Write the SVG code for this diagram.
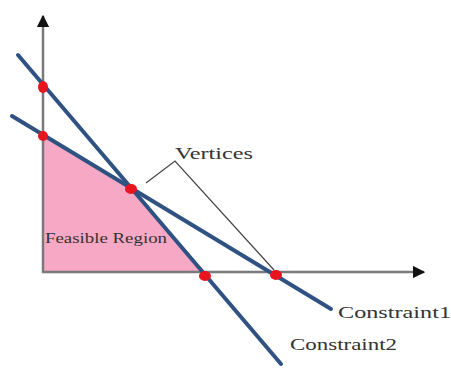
<svg xmlns="http://www.w3.org/2000/svg" width="451" height="370" viewBox="0 0 451 370">
<style>
.axis{stroke:#7a7a7a;stroke-width:2.5;fill:none}
.con{stroke:#2f5283;stroke-width:4;fill:none;stroke-linecap:round}
.dot{fill:#e8141e}
.lbl{font-family:"Liberation Serif","Times New Roman",serif;fill:#333}
.ptr{stroke:#444;stroke-width:1.2;fill:none}
</style>
<defs>
<marker id="arr" viewBox="0 0 10 10" refX="9" refY="5" markerWidth="5" markerHeight="5" orient="auto" markerUnits="strokeWidth">
<path d="M0,0 L10,5 L0,10 z" fill="#111"/>
</marker>
</defs>
<rect width="451" height="370" fill="#fff"/>
<g id="feasible-region">
<polygon points="43,272 43,136 131,189 205,272" fill="#f7a8c4"/>
<text class="lbl" x="45" y="243" font-size="15" textLength="122" lengthAdjust="spacingAndGlyphs">Feasible Region</text>
</g>
<g id="axes">
<line class="axis" x1="43" y1="273" x2="43" y2="16" marker-end="url(#arr)"/>
<line class="axis" x1="42" y1="272" x2="424" y2="272" marker-end="url(#arr)"/>
</g>
<g id="connectors">
<line class="con" x1="18" y1="55" x2="281" y2="364"/>
<line class="con" x1="12" y1="116" x2="331" y2="309"/>
<polyline class="ptr" points="146,183 175,161 274,270"/>
</g>
<g id="vertices-dots">
<ellipse class="dot" cx="43" cy="87" rx="5" ry="6"/>
<ellipse class="dot" cx="43" cy="136" rx="5" ry="5"/>
<ellipse class="dot" cx="131" cy="189" rx="6" ry="5"/>
<ellipse class="dot" cx="205" cy="276" rx="6" ry="5"/>
<ellipse class="dot" cx="276" cy="275" rx="6" ry="5"/>
</g>
<g id="vertices-label">
<text class="lbl" x="175" y="159" font-size="17" textLength="78" lengthAdjust="spacingAndGlyphs">Vertices</text>
</g>
<g id="constraint1-label">
<text class="lbl" x="338" y="318" font-size="17" textLength="113" lengthAdjust="spacingAndGlyphs">Constraint1</text>
</g>
<g id="constraint2-label">
<text class="lbl" x="290" y="350" font-size="17" textLength="107" lengthAdjust="spacingAndGlyphs">Constraint2</text>
</g>
</svg>
